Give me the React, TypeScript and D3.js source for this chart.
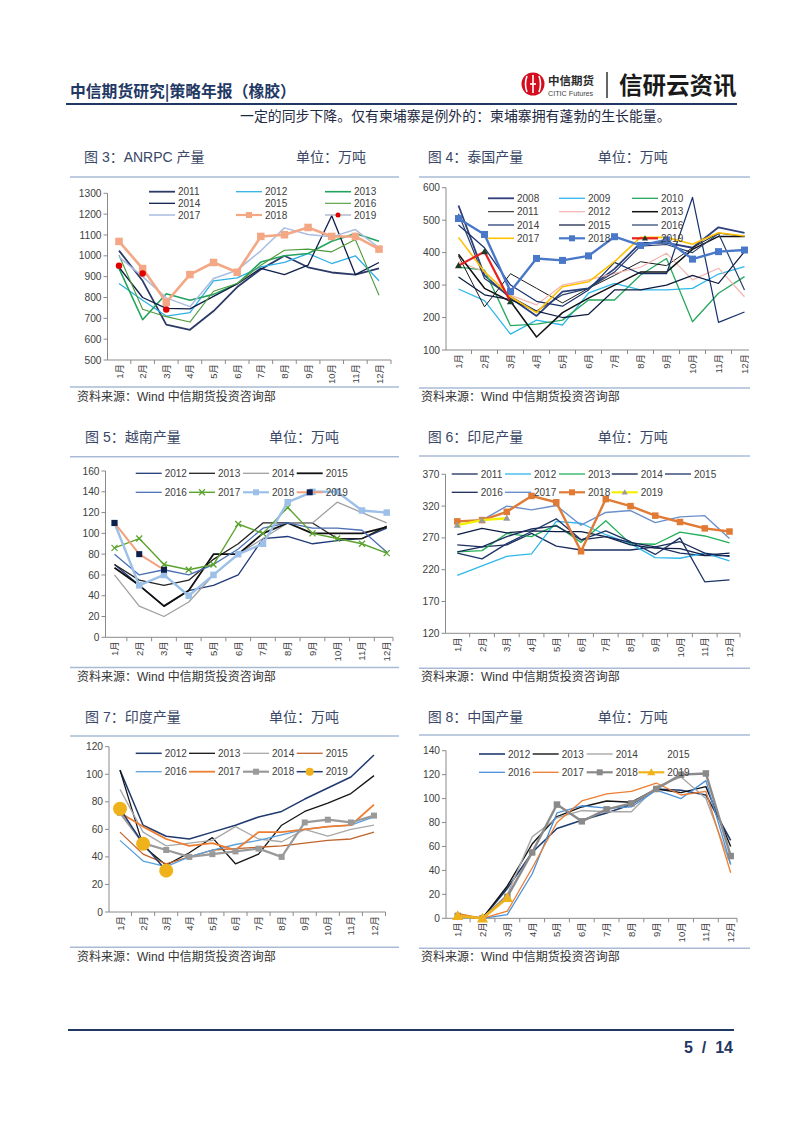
import React from "react";
import * as d3 from "d3";

const months = ["1月", "2月", "3月", "4月", "5月", "6月", "7月", "8月", "9月", "10月", "11月", "12月"];

// 图3 ANRPC
const anrpc2011 = [1025, 880, 670, 645, 735, 850, 935, 1000, 945, 920, 910, 940];
const anrpc2012 = [867, 787, 711, 727, 880, 894, 947, 968, 1011, 963, 1000, 880];
const anrpc2013 = [940, 693, 818, 787, 815, 866, 970, 1000, 1011, 1070, 1107, 1070];
const anrpc2014 = [945, 800, 748, 745, 805, 865, 940, 910, 955, 1192, 910, 968];
const anrpc2015: number[] = [];
const anrpc2016 = [1003, 744, 708, 682, 830, 867, 955, 1027, 1032, 1019, 1078, 811];
const anrpc2017 = [995, 900, 798, 756, 891, 931, 1024, 1134, 1102, 1091, 1126, 1038];
const anrpc2018 = [1069, 939, 777, 910, 968, 921, 1093, 1101, 1136, 1093, 1093, 1032];
const anrpc2019 = [952, 915, 742];

// 图4 泰国
const thai2008 = [545, 330, 260, 205, 280, 290, 350, 430, 430, 415, 478, 461];
const thai2009 = [288, 252, 149, 192, 177, 275, 305, 285, 285, 290, 334, 357];
const thai2010 = [355, 346, 175, 180, 192, 254, 254, 331, 382, 187, 275, 326];
const thai2011 = [390, 233, 335, 290, 245, 290, 330, 372, 360, 415, 460, 450];
const thai2012 = [372, 341, 269, 239, 300, 316, 336, 355, 398, 316, 352, 264];
const thai2013 = [395, 290, 250, 140, 215, 260, 300, 340, 340, 410, 450, 450];
const thai2014 = [485, 415, 300, 250, 235, 285, 370, 335, 335, 570, 185, 217];
const thai2015 = [325, 270, 255, 220, 200, 210, 285, 285, 300, 330, 305, 403];
const thai2016 = [520, 320, 265, 220, 270, 290, 340, 420, 425, 400, 459, 285];
const thai2017 = [447, 341, 264, 215, 295, 310, 372, 447, 447, 426, 461, 451];
const thai2018 = [505, 456, 280, 382, 376, 390, 449, 422, 439, 380, 403, 408];
const thai2019 = [360, 403, 249];

// 图5 越南
const vn2012 = [70, 50, 30, 45, 50, 60, 95, 97, 90, 93, 95, 105];
const vn2013 = [70, 55, 50, 55, 75, 90, 110, 110, 110, 95, 95, 107];
const vn2014 = [60, 30, 20, 34, 60, 80, 95, 110, 110, 130, 120, 110];
const vn2015 = [67, 50, 30, 45, 80, 80, 100, 110, 100, 100, 100, 106];
const vn2016 = [80, 60, 65, 60, 70, 85, 105, 110, 105, 105, 103, 82];
const vn2017 = [86, 95, 70, 65, 70, 109, 100, 125, 100, 95, 90, 81];
const vn2018 = [110, 50, 60, 40, 60, 80, 90, 130, 140, 140, 122, 120];
const vn2019 = [110, 80, 65];

// 图6 印尼
const id2011 = [259, 256, 259, 277, 257, 251, 251, 251, 256, 246, 242, 242];
const id2012 = [211, 226, 241, 245, 296, 293, 275, 261, 239, 238, 246, 234];
const id2013 = [248, 250, 277, 272, 290, 263, 297, 261, 260, 279, 273, 262];
const id2014 = [275, 285, 278, 281, 280, 280, 272, 259, 254, 253, 243, 246];
const id2015 = [246, 237, 261, 280, 300, 267, 281, 264, 244, 270, 201, 204];
const id2016 = [248, 256, 272, 284, 289, 267, 272, 263, 256, 264, 246, 241];
const id2017 = [296, 298, 320, 314, 321, 290, 310, 313, 294, 303, 305, 269];
const id2018 = [296, 298, 311, 336, 326, 249, 331, 320, 305, 295, 285, 280];
const id2019 = [290, 298, 301];

// 图7 印度
const in2012 = [103, 63, 55, 53, 58, 63, 69, 73, 82, 90, 98, 114];
const in2013 = [103, 48, 34, 43, 54, 35, 42, 63, 73, 79, 86, 99];
const in2014 = [89, 58, 48, 50, 52, 62, 53, 51, 60, 55, 60, 63];
const in2015 = [58, 42, 35, 40, 45, 46, 47, 48, 50, 52, 53, 58];
const in2016 = [52, 37, 33, 40, 45, 49, 52, 56, 60, 62, 63, 69];
const in2017 = [72, 62, 53, 48, 50, 45, 58, 58, 60, 62, 63, 78];
const in2018 = [72, 50, 45, 40, 42, 44, 46, 40, 65, 67, 65, 70];
const in2019 = [75, 49.5, 30];

// 图8 中国
const cn2012 = [2, 0, 25, 55, 75, 82, 88, 95, 108, 107, 103, 65];
const cn2013 = [2, 0, 27, 62, 85, 93, 98, 97, 108, 105, 110, 60];
const cn2014 = [3, 0, 20, 68, 84, 90, 89, 89, 110, 118, 100, 45];
const cn2015: number[] = [];
const cn2016 = [2, 0, 3, 37, 88, 94, 92, 93, 107, 100, 115, 45];
const cn2017 = [4, 0, 6, 42, 80, 98, 104, 106, 113, 103, 106, 38];
const cn2018 = [2, 0, 18, 55, 95, 81, 91, 96, 108, 120, 121, 52];
const cn2019 = [2, 0, 17];

type Marker = "square" | "circle" | "triangle" | "x";
interface SeriesDef {
  name: string;
  values: number[];
  color: string;
  width: number;
  marker?: Marker;
  markerColor?: string;
  markerSize?: number;
  showLine?: boolean;
  legendColor?: string;
  legendMarkerSize?: number;
}
interface ChartDef {
  id: string;
  title: string;
  titleX: number;
  unitX: number;
  titleY: number;
  ruleX0: number;
  ruleX1: number;
  ruleTop: number;
  ruleBottom: number;
  sourceX: number;
  sourceY: number;
  axisX0: number;
  axisX1: number;
  p1: number;
  p12: number;
  yBottom: number;
  yTop: number;
  yDomain: [number, number];
  yStep: number;
  legendCols: number[];
  legendRows: number[];
  series: SeriesDef[];
  clipRight?: number;
}

const LATIN = "'Liberation Sans', Arial, 'Noto Sans CJK SC', sans-serif";
const CJK = "'Noto Sans CJK SC', 'Liberation Sans', sans-serif";

function MarkerShape({ type, x, y, size, color }: { type: Marker; x: number; y: number; size: number; color: string }) {
  if (type === "square") return <rect x={x - size / 2} y={y - size / 2} width={size} height={size} fill={color} />;
  if (type === "circle") return <circle cx={x} cy={y} r={size / 2} fill={color} />;
  if (type === "triangle") {
    const p = d3.symbol(d3.symbolTriangle, size * size * 0.45)() || "";
    return <path d={p} transform={`translate(${x},${y + size * 0.08})`} fill={color} />;
  }
  const s = size / 2;
  return (
    <g stroke={color} strokeWidth={1.3}>
      <line x1={x - s} y1={y - s} x2={x + s} y2={y + s} />
      <line x1={x - s} y1={y + s} x2={x + s} y2={y - s} />
    </g>
  );
}

function Chart({ c }: { c: ChartDef }) {
  const x = d3.scalePoint<string>().domain(months).range([c.p1, c.p12]);
  const y = d3.scaleLinear().domain(c.yDomain).range([c.yBottom, c.yTop]);
  const yTicks = d3.range(c.yDomain[0], c.yDomain[1] + 1e-6, c.yStep);
  const step = x.step();
  const bounds = months.slice(1).map((m) => (x(m) as number) - step / 2).concat([c.axisX1]);
  const line = d3
    .line<number>()
    .x((_, i) => x(months[i]) as number)
    .y((d) => y(d));
  const ncol = c.legendCols.length;
  const clipId = `clip-${c.id}`;
  return (
    <g>
      {c.clipRight && (
        <defs>
          <clipPath id={clipId}>
            <rect x={0} y={0} width={c.clipRight} height={1133} />
          </clipPath>
        </defs>
      )}
      <text x={c.titleX} y={c.titleY} fontSize={14} fill="#3a4766" fontFamily={LATIN}>
        {c.title}
      </text>
      <text x={c.unitX} y={c.titleY} fontSize={14} fill="#3a4766" fontFamily={CJK}>
        单位：万吨
      </text>
      <line x1={c.ruleX0} x2={c.ruleX1} y1={c.ruleTop} y2={c.ruleTop} stroke="#a9bbd4" strokeWidth={1.6} />
      <line x1={c.ruleX0} x2={c.ruleX1} y1={c.ruleBottom} y2={c.ruleBottom} stroke="#a9bbd4" strokeWidth={1.6} />
      <text x={c.sourceX} y={c.sourceY} fontSize={12} fill="#333" fontFamily={LATIN}>
        资料来源：Wind 中信期货投资咨询部
      </text>
      <g clipPath={c.clipRight ? `url(#${clipId})` : undefined}>
        <line x1={c.axisX0} x2={c.axisX0} y1={c.yBottom} y2={c.yTop} stroke="#8a8a8a" strokeWidth={1} />
        <line x1={c.axisX0} x2={c.axisX1} y1={c.yBottom} y2={c.yBottom} stroke="#8a8a8a" strokeWidth={1} />
        {yTicks.map((t) => (
          <g key={t}>
            <line x1={c.axisX0 - 4} x2={c.axisX0} y1={y(t)} y2={y(t)} stroke="#8a8a8a" />
            <text x={c.axisX0 - 6} y={y(t)} dy="0.35em" textAnchor="end" fontSize={10.2} fill="#404040" fontFamily={LATIN}>
              {t}
            </text>
          </g>
        ))}
        {bounds.map((b, i) => (
          <line key={i} x1={b} x2={b} y1={c.yBottom} y2={c.yBottom + 4} stroke="#8a8a8a" />
        ))}
        {months.map((m) => (
          <text
            key={m}
            transform={`translate(${(x(m) as number) + 3.5},${c.yBottom + 4}) rotate(-90)`}
            textAnchor="end"
            fontSize={9.5}
            fill="#404040"
            fontFamily={LATIN}
          >
            {m}
          </text>
        ))}
        {c.series.map((s) => (
          <g key={s.name}>
            {s.showLine !== false && s.values.length > 0 && (
              <path d={line(s.values) || ""} fill="none" stroke={s.color} strokeWidth={s.width} strokeLinejoin="round" />
            )}
            {s.marker &&
              s.values.map((v, i) => (
                <MarkerShape key={i} type={s.marker as Marker} x={x(months[i]) as number} y={y(v)} size={s.markerSize || 6} color={s.markerColor || s.color} />
              ))}
          </g>
        ))}
        {c.series.map((s, i) => {
          const lx = c.legendCols[i % ncol];
          const ly = c.legendRows[Math.floor(i / ncol)];
          return (
            <g key={"lg" + s.name}>
              <line x1={lx} x2={lx + 26} y1={ly} y2={ly} stroke={s.legendColor || s.color} strokeWidth={Math.min(s.width, 2.2)} />
              {s.marker && (
                <MarkerShape type={s.marker} x={lx + 13} y={ly} size={s.legendMarkerSize || Math.min(s.markerSize || 6, 6)} color={s.markerColor || s.color} />
              )}
              <text x={lx + 29} y={ly} dy="0.35em" fontSize={10} fill="#404040" fontFamily={LATIN}>
                {s.name}
              </text>
            </g>
          );
        })}
      </g>
    </g>
  );
}

const NAVY = "#1f3a6e";

const charts: ChartDef[] = [
  {
    id: "c3",
    title: "图 3：ANRPC 产量",
    titleX: 84,
    unitX: 296,
    titleY: 162,
    ruleX0: 70,
    ruleX1: 399,
    ruleTop: 177,
    ruleBottom: 387,
    sourceX: 77,
    sourceY: 401,
    axisX0: 107.5,
    axisX1: 391,
    p1: 119,
    p12: 379,
    yBottom: 360,
    yTop: 193.3,
    yDomain: [500, 1300],
    yStep: 100,
    legendCols: [149, 236, 325],
    legendRows: [191.7, 203.3, 215],
    series: [
      { name: "2011", values: anrpc2011, color: "#2b3a67", width: 1.8 },
      { name: "2012", values: anrpc2012, color: "#2eb0e4", width: 1.3 },
      { name: "2013", values: anrpc2013, color: "#22a35e", width: 1.6 },
      { name: "2014", values: anrpc2014, color: "#101f4a", width: 1.3 },
      { name: "2015", values: anrpc2015, color: "#ffffff", width: 1.3 },
      { name: "2016", values: anrpc2016, color: "#4f9a3a", width: 1.1 },
      { name: "2017", values: anrpc2017, color: "#a9bde0", width: 1.5 },
      { name: "2018", values: anrpc2018, color: "#f4a784", width: 2.6, marker: "square", markerSize: 7.5 },
      { name: "2019", values: anrpc2019, color: "#e00000", width: 1.3, marker: "circle", markerSize: 6.5, showLine: false, legendColor: "#a6b0c2", legendMarkerSize: 5 },
    ],
  },
  {
    id: "c4",
    title: "图 4：泰国产量",
    titleX: 427.7,
    unitX: 597.7,
    titleY: 162,
    ruleX0: 419,
    ruleX1: 750,
    ruleTop: 177,
    ruleBottom: 388,
    sourceX: 421,
    sourceY: 401,
    axisX0: 446,
    axisX1: 760,
    p1: 458.5,
    p12: 744.5,
    yBottom: 350,
    yTop: 187.7,
    yDomain: [100, 600],
    yStep: 100,
    legendCols: [488, 559, 632],
    legendRows: [198.3, 211.7, 225, 238.3],
    clipRight: 749,
    series: [
      { name: "2008", values: thai2008, color: "#2f3f7a", width: 1.8 },
      { name: "2009", values: thai2009, color: "#2fb8ea", width: 1.3 },
      { name: "2010", values: thai2010, color: "#26a85e", width: 1.3 },
      { name: "2011", values: thai2011, color: "#1b1b1b", width: 1 },
      { name: "2012", values: thai2012, color: "#f4b5ae", width: 1.2 },
      { name: "2013", values: thai2013, color: "#111111", width: 1.5 },
      { name: "2014", values: thai2014, color: "#17306b", width: 1.2 },
      { name: "2015", values: thai2015, color: "#0c1a40", width: 1.2 },
      { name: "2016", values: thai2016, color: "#26406e", width: 1.2 },
      { name: "2017", values: thai2017, color: "#ffc000", width: 1.6 },
      { name: "2018", values: thai2018, color: "#4a78c8", width: 2.4, marker: "square", markerSize: 7 },
      { name: "2019", values: thai2019, color: "#e82020", width: 2.2, marker: "triangle", markerSize: 7, markerColor: "#1c3a24" },
    ],
  },
  {
    id: "c5",
    title: "图 5：越南产量",
    titleX: 85,
    unitX: 269,
    titleY: 442,
    ruleX0: 70,
    ruleX1: 399,
    ruleTop: 456.7,
    ruleBottom: 667.5,
    sourceX: 77,
    sourceY: 681,
    axisX0: 105.5,
    axisX1: 393,
    p1: 114.5,
    p12: 386.7,
    yBottom: 637.3,
    yTop: 471,
    yDomain: [0, 160],
    yStep: 20,
    legendCols: [135.7, 189, 243, 296.7],
    legendRows: [473.3, 492.3],
    series: [
      { name: "2012", values: vn2012, color: "#1f3a78", width: 1.3 },
      { name: "2013", values: vn2013, color: "#222222", width: 1.3 },
      { name: "2014", values: vn2014, color: "#a0a0a0", width: 1.3 },
      { name: "2015", values: vn2015, color: "#111111", width: 1.8 },
      { name: "2016", values: vn2016, color: "#4a6fb5", width: 1.3 },
      { name: "2017", values: vn2017, color: "#5ba32e", width: 1.4, marker: "x", markerSize: 6 },
      { name: "2018", values: vn2018, color: "#9cc0e8", width: 2.4, marker: "square", markerSize: 6.5 },
      { name: "2019", values: vn2019, color: "#f4a07a", width: 2, marker: "square", markerSize: 6, markerColor: "#0f1f4b" },
    ],
  },
  {
    id: "c6",
    title: "图 6：印尼产量",
    titleX: 427.7,
    unitX: 597.7,
    titleY: 442,
    ruleX0: 419,
    ruleX1: 750,
    ruleTop: 456,
    ruleBottom: 668.3,
    sourceX: 421,
    sourceY: 681,
    axisX0: 445.5,
    axisX1: 740,
    p1: 457.3,
    p12: 729.5,
    yBottom: 633.3,
    yTop: 474.3,
    yDomain: [120, 370],
    yStep: 50,
    legendCols: [451.7, 505, 559, 611.7, 665],
    legendRows: [474, 492.3],
    series: [
      { name: "2011", values: id2011, color: "#1c2f5e", width: 1.3 },
      { name: "2012", values: id2012, color: "#2fb8ea", width: 1.3 },
      { name: "2013", values: id2013, color: "#21b05a", width: 1.3 },
      { name: "2014", values: id2014, color: "#0d1d45", width: 1.3 },
      { name: "2015", values: id2015, color: "#1c3466", width: 1.3 },
      { name: "2016", values: id2016, color: "#1a2c5a", width: 1.3 },
      { name: "2017", values: id2017, color: "#6b8fcb", width: 1.4 },
      { name: "2018", values: id2018, color: "#e07a34", width: 2.4, marker: "square", markerSize: 6.5 },
      { name: "2019", values: id2019, color: "#f5f000", width: 2.4, marker: "triangle", markerSize: 7, markerColor: "#9a9a9a" },
    ],
  },
  {
    id: "c7",
    title: "图 7：印度产量",
    titleX: 85,
    unitX: 269,
    titleY: 722,
    ruleX0: 70,
    ruleX1: 399,
    ruleTop: 736,
    ruleBottom: 947.3,
    sourceX: 77,
    sourceY: 961,
    axisX0: 109,
    axisX1: 385.5,
    p1: 120,
    p12: 374,
    yBottom: 912,
    yTop: 746.7,
    yDomain: [0, 120],
    yStep: 20,
    legendCols: [135.7, 189, 243, 296.7],
    legendRows: [753.3, 771.7],
    series: [
      { name: "2012", values: in2012, color: "#1f3a6e", width: 1.5 },
      { name: "2013", values: in2013, color: "#151515", width: 1.3 },
      { name: "2014", values: in2014, color: "#a8a8a8", width: 1.3 },
      { name: "2015", values: in2015, color: "#c0632b", width: 1.3 },
      { name: "2016", values: in2016, color: "#5aa0dc", width: 1.3 },
      { name: "2017", values: in2017, color: "#ed7d31", width: 1.8 },
      { name: "2018", values: in2018, color: "#9a9a9a", width: 2.2, marker: "square", markerSize: 6 },
      { name: "2019", values: in2019, color: NAVY, width: 1.5, marker: "circle", markerSize: 14, markerColor: "#f0b21a", legendMarkerSize: 8 },
    ],
  },
  {
    id: "c8",
    title: "图 8：中国产量",
    titleX: 427.7,
    unitX: 597.7,
    titleY: 722,
    ruleX0: 419,
    ruleX1: 750,
    ruleTop: 735,
    ruleBottom: 948.3,
    sourceX: 421,
    sourceY: 961,
    axisX0: 446,
    axisX1: 737,
    p1: 457.7,
    p12: 730.7,
    yBottom: 918.3,
    yTop: 750.7,
    yDomain: [0, 140],
    yStep: 20,
    legendCols: [479, 532.7, 586.7, 638.3],
    legendRows: [754, 772.3],
    series: [
      { name: "2012", values: cn2012, color: "#1f3a6e", width: 1.6 },
      { name: "2013", values: cn2013, color: "#151515", width: 1.4 },
      { name: "2014", values: cn2014, color: "#a8a8a8", width: 1.4 },
      { name: "2015", values: cn2015, color: "#ffffff", width: 1.3 },
      { name: "2016", values: cn2016, color: "#4a90d9", width: 1.3 },
      { name: "2017", values: cn2017, color: "#ed7d31", width: 1.3 },
      { name: "2018", values: cn2018, color: "#8a8a8a", width: 2.4, marker: "square", markerSize: 6.5 },
      { name: "2019", values: cn2019, color: "#f0b21a", width: 2.6, marker: "triangle", markerSize: 11, legendMarkerSize: 8 },
    ],
  },
];

export default function App() {
  return (
    <svg
      width={802}
      height={1133}
      viewBox="0 0 802 1133"
      style={{ position: "absolute", left: 0, top: 0, background: "#fff" }}
    >
      <rect x={0} y={0} width={802} height={1133} fill="#fff" />
      <text x={70} y={97} fontSize={15.8} fontWeight="bold" fill="#1f3864" fontFamily={CJK}>
        中信期货研究|策略年报（橡胶）
      </text>
      <circle cx={533} cy={84} r={11.5} fill="#d40e1e" />
      <g stroke="#fff" strokeWidth={1.6} fill="none">
        <path d="M527,76 Q524,84 527,92" />
        <path d="M539,76 Q542,84 539,92" />
        <line x1={533} y1={75} x2={533} y2={93} />
        <line x1={530} y1={84} x2={536} y2={84} />
      </g>
      <text x={548} y={85} fontSize={11.5} fontWeight="bold" fill="#2a2a2a" fontFamily={CJK}>
        中信期货
      </text>
      <text x={548} y={96} fontSize={7.2} fill="#444" fontFamily={LATIN}>
        CITIC Futures
      </text>
      <line x1={607} x2={607} y1={72} y2={98} stroke="#333" strokeWidth={1.5} />
      <text x={619} y={94} fontSize={23.5} fontWeight="bold" fill="#1a1a1a" fontFamily={CJK}>
        信研云资讯
      </text>
      <line x1={66} x2={737} y1={104} y2={104} stroke="#1f3864" strokeWidth={1.8} />
      <text x={240} y={121} fontSize={13.9} fill="#1f2a44" fontFamily={CJK}>
        一定的同步下降。仅有柬埔寨是例外的：柬埔寨拥有蓬勃的生长能量。
      </text>

      {charts.map((c) => (
        <Chart key={c.id} c={c} />
      ))}

      <line x1={68} x2={734} y1={1030} y2={1030} stroke="#1f3864" strokeWidth={1.8} />
      <text x={733} y={1053} textAnchor="end" fontSize={16} fontWeight="bold" fill="#1f3864" fontFamily={LATIN} style={{ whiteSpace: "pre" }}>
        {"5  /  14"}
      </text>
    </svg>
  );
}
